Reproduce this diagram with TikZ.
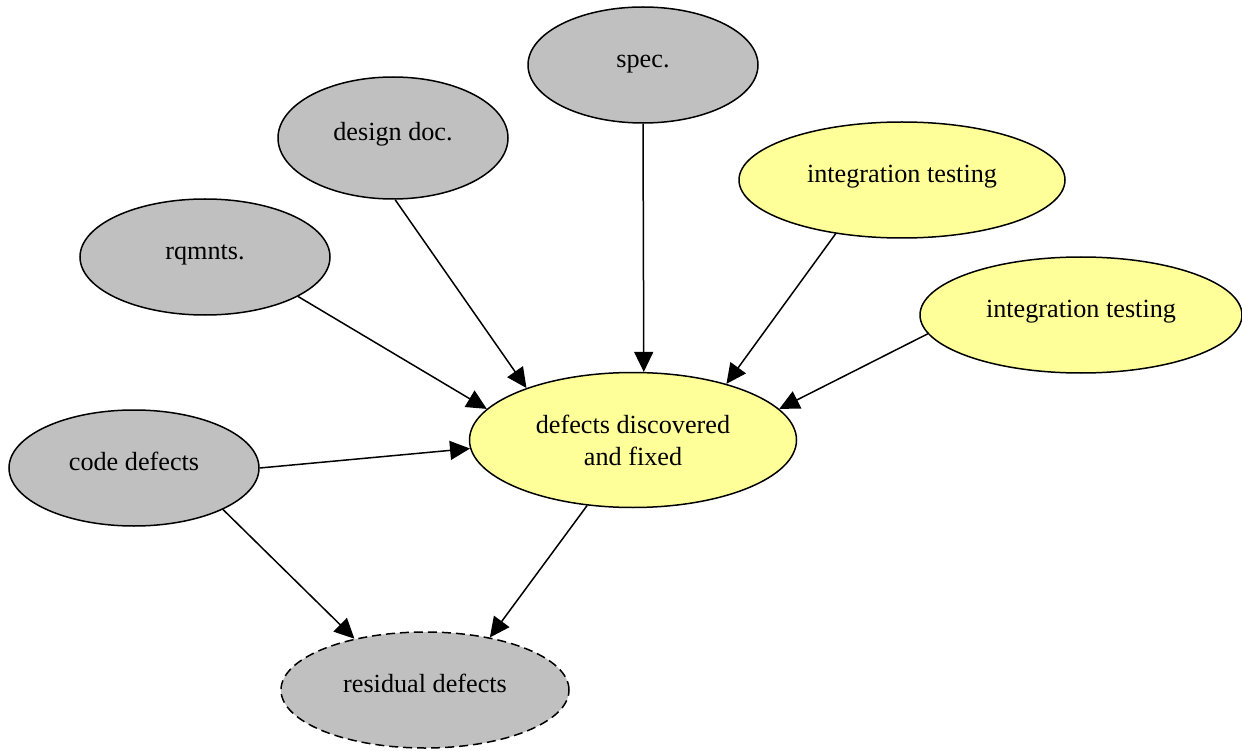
\documentclass[tikz,border=0pt]{standalone}
\usepackage{fontspec}
\setmainfont{Liberation Serif}
\usetikzlibrary{arrows.meta, shapes.geometric}
\definecolor{boxGray}{HTML}{C0C0C0}
\definecolor{boxYellow}{HTML}{FFFF99}

\begin{document}
\begin{tikzpicture}[x=1pt, y=-1pt, >={Triangle[length=20pt, width=19pt]},
    every node/.style={ellipse, draw, line width=1.5pt, inner sep=0pt,
        font=\fontsize{26.2}{32}\selectfont, align=center},
    oneline/.style={text height=18pt, text depth=13pt},
    grayset/.style={fill=boxGray, oneline},
    yellowset/.style={fill=boxYellow},
    edge/.style={->, line width=1.5pt}]
    \useasboundingbox (0,0) rectangle (1242,751);

    % sources of defects
    \node[grayset, minimum width=230pt, minimum height=116pt] (spec) at (643,65) {spec.};
    \node[grayset, minimum width=230pt, minimum height=122pt] (design) at (393,138) {design doc.};
    \node[grayset, minimum width=250pt, minimum height=116pt] (rqmnts) at (205,257) {rqmnts.};
    \node[grayset, minimum width=250pt, minimum height=116pt] (code) at (134,468) {code defects};
    % testing
    \node[yellowset, oneline, minimum width=326pt, minimum height=116pt] (itest) at (902,180) {integration testing};
    \node[yellowset, oneline, minimum width=322pt, minimum height=116pt] (itestb) at (1081,315) {integration testing};
    \node[yellowset, minimum width=327pt, minimum height=135pt] (fixed) at (633,440) {defects discovered\\and fixed};
    \node[grayset, dash pattern=on 9pt off 5pt, minimum width=288pt, minimum height=116pt] (resid) at (425,690) {residual defects};

    \draw[edge] (spec.south) -- (fixed.81.6);
    \draw[edge] (design.-88) -- (fixed.154);
    \draw[edge] (rqmnts.-23) -- (fixed.168);
    \draw[edge] (code.0) -- (fixed.183);
    \draw[edge] (itest.219) -- (fixed.31);
    \draw[edge] (itestb.187) -- (fixed.12);
    \draw[edge] (code.-25) -- (resid.144);
    \draw[edge] (fixed.235) -- (resid.39);
\end{tikzpicture}
\end{document}
